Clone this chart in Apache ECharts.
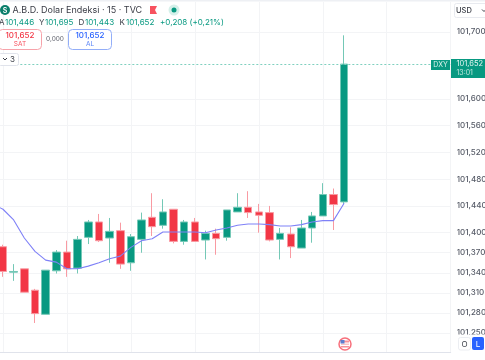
<!DOCTYPE html>
<html>
<head>
<meta charset="utf-8">
<title>DXY</title>
<script src="https://cdn.jsdelivr.net/npm/echarts@6/dist/echarts.min.js"></script>
<style>
html,body{margin:0;padding:0;background:#fff;overflow:hidden;}
#main{width:485px;height:360px;}
</style>
</head>
<body>
<div id="main"></div>
<script>
var opens = [101379,101341,101346,101314,101278,101343,101371,101347,101393,101416,101392,101403,101355,101390,101423,101411,101435,101387,101416,101389,101399,101393,101431,101438,101431,101430,101390,101398,101377,101407,101425,101457,101446];
var closes = [101342,101342,101311,101279,101344,101371,101346,101390,101416,101388,101402,101353,101394,101419,101409,101431,101387,101416,101387,101399,101391,101434,101438,101430,101426,101389,101399,101379,101407,101425,101457,101442,101652];
var lows = [101334,101328,101311,101265,101278,101339,101334,101339,101383,101386,101355,101346,101343,101370,101395,101406,101384,101382,101387,101360,101367,101388,101431,101422,101400,101387,101360,101362,101377,101385,101425,101404,101443];
var highs = [101382,101353,101346,101316,101344,101374,101388,101395,101419,101428,101422,101415,101398,101430,101459,101450,101435,101419,101422,101403,101406,101434,101459,101462,101443,101440,101407,101408,101419,101431,101474,101466,101695];
// off-screen first value, then one per candle
var maLine = [101443,101435,101419,101392,101372,101359,101356,101346,101346,101350,101355,101361,101365,101378,101388,101391,101401,101401,101401,101401,101400,101404,101407,101411,101413,101413,101412,101410,101410,101412,101416,101418,101418,101444];
var tickValues = [101250,101280,101310,101340,101370,101400,101440,101480,101520,101560,101600,101700];
var lastPrice = 101652;
var padBefore = 1, padAfter = 10;

var green = '#089981', red = '#f23645', blue = '#2962ff';
var fontName = 'Inter';

var categories = [], candleData = [], maData = [];
for (var i = 0; i < padBefore + opens.length + padAfter; i++) {
	categories.push('c' + i);
	var k = i - padBefore;
	candleData.push(k >= 0 && k < opens.length ? [opens[k], closes[k], lows[k], highs[k]] : '-');
	maData.push(i < maLine.length ? maLine[i] : '-');
}

function label(x, y, text, size, color, weight, align) {
	return {
		type: 'text', x: x, y: y, z: 102,
		style: {
			text: text, fontSize: size, fontFamily: fontName, fontWeight: weight || 400,
			fill: color, align: align || 'left', verticalAlign: 'middle'
		}
	};
}
function box(x, y, w, h, fill, stroke, r) {
	return {
		type: 'rect', z: 101,
		shape: { x: x, y: y, width: w, height: h, r: r || 0 },
		style: { fill: fill, stroke: stroke || null, lineWidth: 1 }
	};
}

var chart = echarts.init(document.getElementById('main'), null, { renderer: 'canvas' });
var option = {
	animation: false,
	backgroundColor: '#fff',
	grid: { left: -7.66, right: 34.3, top: 2, bottom: 7.3, outerBoundsMode: 'none' },
	xAxis: {
		type: 'category',
		data: categories,
		boundaryGap: false,
		axisLine: { show: true, lineStyle: { color: '#e0e3eb', width: 1 } },
		axisTick: { show: false },
		axisLabel: { show: false },
		splitLine: {
			show: true,
			interval: function (idx) { return idx % 6 === 1; },
			lineStyle: { color: '#f3f4f6', width: 1 }
		}
	},
	yAxis: {
		type: 'value',
		position: 'right',
		scale: true,
		min: 101220.6,
		max: 101744.8,
		axisLine: { show: false },
		axisTick: { show: false, customValues: tickValues },
		splitLine: { show: true, lineStyle: { color: '#f3f4f6', width: 1 } },
		axisLabel: {
			customValues: tickValues,
			margin: 6,
			fontSize: 8,
			fontFamily: fontName,
			fontWeight: 500,
			color: '#555a66',
			formatter: function (v) { return String(v).replace(/(\d{3})$/, ',$1'); }
		}
	},
	series: [
		{
			type: 'candlestick',
			data: candleData,
			barWidth: 8,
			itemStyle: {
				color: green,
				color0: red,
				borderColor: '#74c8b6',
				borderColor0: '#f99aa2',
				borderWidth: 1
			},
			markLine: {
				silent: true,
				symbol: 'none',
				label: { show: false },
				lineStyle: { color: '#7fd0bf', type: [2, 2], width: 1 },
				data: [{ yAxis: lastPrice }]
			}
		},
		{
			type: 'line',
			data: maData,
			showSymbol: false,
			smooth: false,
			connectNulls: false,
			lineStyle: { color: '#7f81f7', width: 1.1 }
		}
	],
	graphic: [
		box(0, 0, 485, 1.5, '#eef0f4'),
		// covers the clipped foot of the lowest price label
		box(452, 334.5, 33, 17.5, '#fff'),

		// title row
		{ type: 'circle', z: 101, shape: { cx: 5, cy: 10, r: 5 }, style: { fill: '#0b7f6c' } },
		label(5, 10.5, 'S', 7, '#fff', 600, 'center'),
		label(12.5, 10.5, 'A.B.D. Dolar Endeksi · 15 · TVC', 9, '#3a3d46'),
		{ type: 'polygon', z: 101, shape: { points: [[150, 6], [157, 6], [155, 10], [157, 14], [150, 14]] }, style: { fill: '#f7525f' } },
		{ type: 'circle', z: 101, shape: { cx: 174, cy: 10, r: 5.5 }, style: { fill: '#d5f0ea' } },
		{ type: 'circle', z: 101, shape: { cx: 174, cy: 10, r: 2.5 }, style: { fill: green } },

		// OHLC row
		label(-1, 23, 'A', 8, '#3a3d46'),
		label(5, 23, '101,446', 8, green),
		label(39, 23, 'Y', 8, '#3a3d46'),
		label(45, 23, '101,695', 8, green),
		label(78.5, 23, 'D', 8, '#3a3d46'),
		label(85, 23, '101,443', 8, green),
		label(119.5, 23, 'K', 8, '#3a3d46'),
		label(126, 23, '101,652', 8, green),
		label(160, 23, '+0,208 (+0,21%)', 8, green),

		// buy / sell boxes
		box(-1.5, 29.5, 43, 20, '#fff', '#f7a3aa', 4),
		label(20, 36, '101,652', 8, red, 500, 'center'),
		label(20, 44.5, 'SAT', 6.5, '#f7525f', 400, 'center'),
		label(55, 39.5, '0,000', 6.5, '#5d606b', 400, 'center'),
		box(68.5, 29.5, 43, 20, '#fff', '#93aef8', 4),
		label(90, 36, '101,652', 8, blue, 500, 'center'),
		label(90, 44.5, 'AL', 6.5, '#5b85f7', 400, 'center'),
		box(-1.5, 53.5, 20, 12, '#fff', '#e0e3eb', 2),
		{ type: 'polyline', z: 102, shape: { points: [[3, 58], [5, 60], [7, 58]] }, style: { stroke: '#3a3d46', fill: null, lineWidth: 1 } },
		label(10, 59.5, '3', 8, '#3a3d46'),

		// last price tags
		box(431, 60, 19, 10, green),
		label(440.5, 65.2, 'DXY', 7, '#d8f3ec', 400, 'center'),
		box(451, 59, 34, 19, green),
		label(456.5, 64.2, '101,652', 7.5, '#e6f7f3'),
		label(456.5, 73, '13:01', 7, '#bfe8de'),

		// currency selector
		box(454.5, 3.5, 36, 14, '#fff', '#e8eaef', 2),
		label(456, 10.5, 'USD', 7.5, '#3a3d46', 500),
		{ type: 'polyline', z: 102, shape: { points: [[482, 9.5], [484, 11.5], [486, 9.5]] }, style: { stroke: '#3a3d46', fill: null, lineWidth: 1 } },

		// event flag
		{ type: 'circle', z: 101, shape: { cx: 345, cy: 344, r: 6 }, style: { fill: '#fff', stroke: '#f7707c', lineWidth: 1.5 } },
		box(341, 340.5, 8, 2, '#f7909a'),
		box(341, 343.5, 8, 1.5, '#f7c4c8'),
		box(341, 346, 8, 1.5, '#f7909a'),
		box(340.5, 340, 4, 3.5, '#5b7fd0'),

		// scale buttons
		box(458.5, 337.5, 12, 12.5, '#fff', '#eceef2', 2),
		label(464.5, 344.2, 'O', 8, '#3a3d46', 400, 'center'),
		box(472, 337, 12, 13, blue, null, 2),
		label(478, 344.2, 'L', 8, '#fff', 400, 'center')
	]
};
chart.setOption(option);
</script>
</body>
</html>
